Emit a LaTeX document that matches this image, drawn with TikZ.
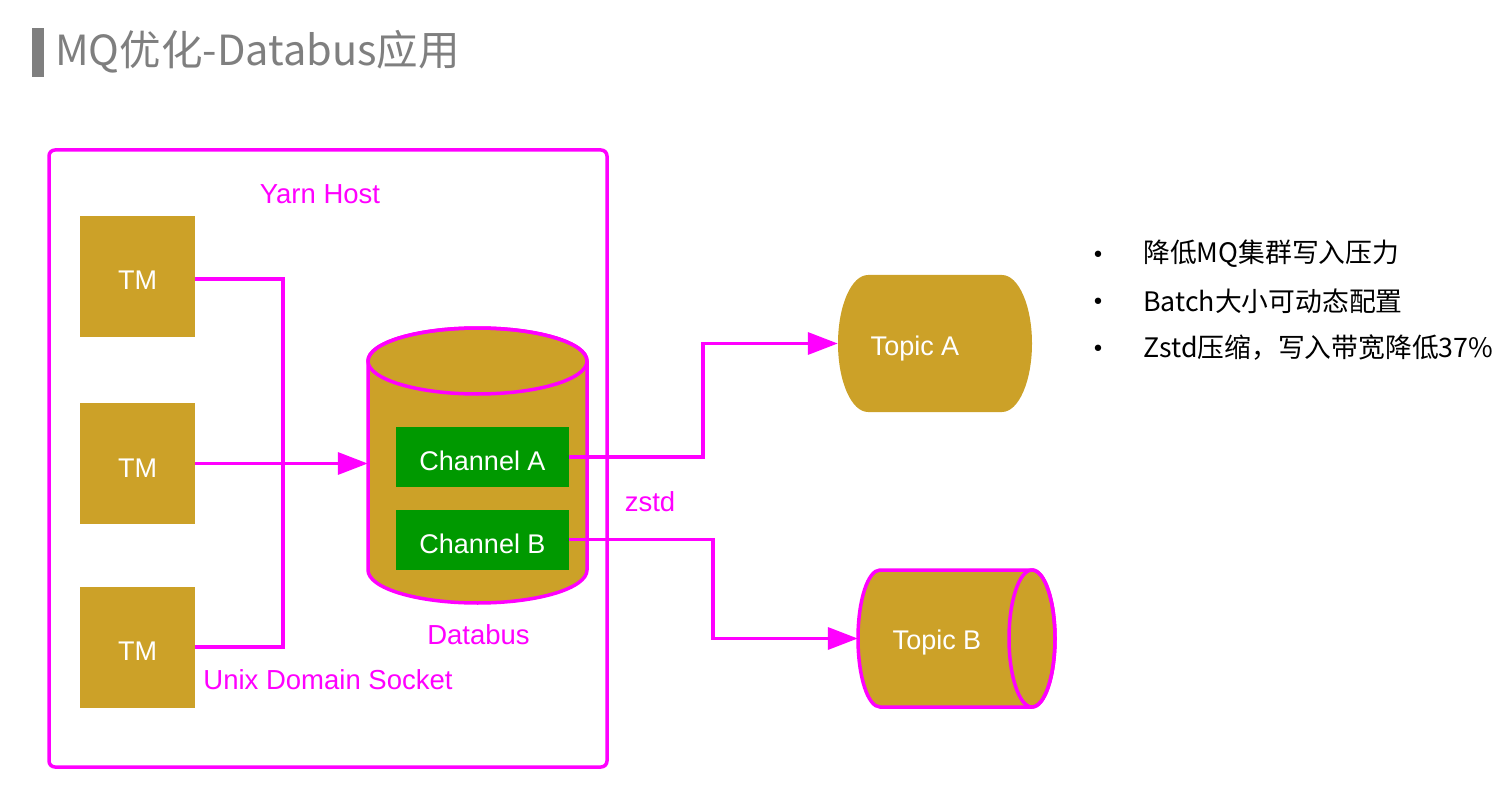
\documentclass[tikz,border=0pt]{standalone}
\usepackage{fontspec}
\setmainfont{Liberation Sans}
\newfontfamily\cjk{Noto Sans CJK SC}
\newfontfamily\dejavu{DejaVu Sans}
\usetikzlibrary{arrows.meta}
\definecolor{mag}{HTML}{FF00FF}
\definecolor{gold}{HTML}{CCA128}
\definecolor{chgreen}{HTML}{009900}
\definecolor{titlegray}{HTML}{7F7F7F}
\begin{document}
\begin{tikzpicture}[x=1pt,y=-1pt,
  conn/.style={draw=mag, line width=3.5pt},
  arr/.style={conn, -{Triangle[length=30pt,width=22pt]}},
  tmbox/.style={fill=gold, minimum width=115pt, minimum height=121pt, inner sep=0pt, text=white, font=\fontsize{27}{32}\selectfont, text height=27pt, text depth=0pt},
  chbox/.style={fill=chgreen, minimum width=173pt, minimum height=60pt, inner sep=0pt, text=white, font=\fontsize{27}{32}\selectfont, text height=27pt, text depth=0pt},
  lbl/.style={text=mag, font=\fontsize{27.5}{32}\selectfont, inner sep=0pt},
  toptext/.style={text=white, font=\fontsize{27}{32}\selectfont, inner sep=0pt},
  bulletline/.style={font=\cjk\fontsize{26.8}{32}\selectfont, anchor=west, inner sep=0pt},
  bulletdot/.style={font=\dejavu\fontsize{22}{26}\selectfont, inner sep=0pt}
]
\useasboundingbox (0,0) rectangle (1507,794);

% title
\node (titlebar) [fill=titlegray, minimum width=12pt, minimum height=49pt, inner sep=0pt] at (38,52.5) {};
\node (title) [anchor=west, text=titlegray, font=\cjk\fontsize{41.5}{48}\selectfont, inner sep=0pt] at (55,52) {MQ优化-Databus应用};

% host box
\node (host) [draw=mag, line width=3.5pt, rounded corners=6pt, minimum width=558pt, minimum height=617pt, inner sep=0pt] at (328,458.5) {};
\node[lbl] (yarn) at (320,194) {Yarn Host};

% TMs
\node[tmbox] (tm1) at (137.5,276.5) {TM};
\node[tmbox] (tm2) at (137.5,463.5) {TM};
\node[tmbox] (tm3) at (137.5,647) {TM};

% databus cylinder
\path[fill=gold, draw=mag, line width=3.5pt] (368,361) -- (368,570)
  arc[start angle=180, end angle=0, x radius=109.5, y radius=33] -- (587,361)
  arc[start angle=0, end angle=-180, x radius=109.5, y radius=33] -- cycle;
\draw[mag, line width=3.5pt] (477.5,361) ellipse [x radius=109.5, y radius=33];
\node (db) [minimum width=219pt, minimum height=276pt, inner sep=0pt] at (477.5,465) {};
\node[lbl] (dbl) at (478.5,635) {Databus};

% connectors TM -> databus
\coordinate (jtop) at (283,279);
\coordinate (jbot) at (283,647);
\draw[conn] (tm1.east |- jtop) -- (jtop) -- (jbot) -- (tm3.east);
\draw[arr] (tm2.east) -- (tm2.east -| db.west);
\node[lbl] (uds) at (328,680) {Unix Domain Socket};

% channels
\node[chbox] (cha) at (482.5,457) {Channel A};
\node[chbox] (chb) at (482.5,539.5) {Channel B};

% Topic A
\path[fill=gold] (868,275) -- (1002,275)
  arc[start angle=-90, end angle=90, x radius=30, y radius=68.5] -- (868,412)
  arc[start angle=90, end angle=270, x radius=30, y radius=68.5] -- cycle;
\node (ta) [minimum width=194pt, minimum height=137pt, inner sep=0pt] at (935,343.5) {};
\node[toptext] (tatext) at (915,349) {Topic A};

% Topic B
\path[fill=gold, draw=mag, line width=3.5pt] (880,570) -- (1032,570)
  arc[start angle=-90, end angle=90, x radius=23, y radius=68.5] -- (880,707)
  arc[start angle=90, end angle=270, x radius=22, y radius=68.5] -- cycle;
\draw[mag, line width=3.5pt] (1032,638.5) ellipse [x radius=23, y radius=68.5];
\node (tb) [minimum width=197pt, minimum height=138pt, inner sep=0pt] at (956.5,638.5) {};
\node[toptext] (tbtext) at (937,643) {Topic B};

% channel -> topic arrows
\draw[arr] (cha.east) -- ++(134,0) |- (ta.west);
\draw[arr] (chb.east) -- ++(144,0) |- (tb.west);
\node[lbl] (zstd) at (650,502) {zstd};

% bullets
\node[bulletdot] (d1) at (1098,257) {•};
\node[bulletdot] (d2) at (1098,304) {•};
\node[bulletdot] (d3) at (1098,351) {•};
\node[bulletline] (b1) at (1143,254) {降低MQ集群写入压力};
\node[bulletline] (b2) at (1143,301) {Batch大小可动态配置};
\node[bulletline] (b3) at (1143,348) {Zstd压缩，写入带宽降低37\%};
\end{tikzpicture}
\end{document}
